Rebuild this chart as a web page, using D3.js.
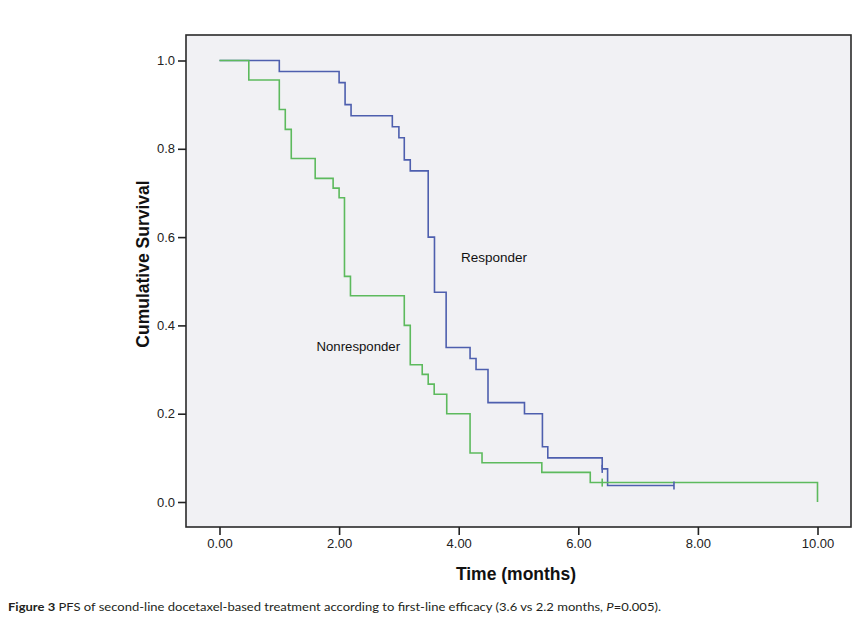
<!DOCTYPE html>
<html>
<head>
<meta charset="utf-8">
<script src="https://cdn.jsdelivr.net/npm/d3@7"></script>
<style>
  body { margin: 0; background: #fff; }
  svg { display: block; }
</style>
</head>
<body>
<svg id="chart" width="861" height="621"></svg>
<script>
// ---- Data ----
const responderTimes = [0, 1.0, 2.0, 2.1, 2.2, 2.89, 3.0, 3.09, 3.19, 3.49, 3.595, 3.79, 4.19, 4.29, 4.49, 5.10, 5.40, 5.49, 6.40, 6.49, 7.60];
const responderSurv  = [1, 0.975, 0.95, 0.90, 0.875, 0.85, 0.825, 0.775, 0.75, 0.60, 0.475, 0.35, 0.325, 0.30, 0.225, 0.20, 0.125, 0.10, 0.075, 0.0375, 0.0375];
const responderCensorTimes = [6.40, 7.60];
const responderCensorSurv  = [0.075, 0.0375];

const nonTimes = [0, 0.49, 1.0, 1.1, 1.2, 1.6, 1.9, 2.0, 2.09, 2.19, 3.09, 3.19, 3.39, 3.49, 3.59, 3.80, 4.19, 4.39, 5.39, 6.2, 10.0];
const nonSurv  = [1, 0.956, 0.889, 0.844, 0.778, 0.733, 0.711, 0.689, 0.511, 0.467, 0.40, 0.311, 0.289, 0.267, 0.244, 0.20, 0.111, 0.089, 0.067, 0.044, 0];
const nonCensorTimes = [6.40];
const nonCensorSurv  = [0.044];

const xTicks = [0, 2, 4, 6, 8, 10];
const yTicks = [0, 0.2, 0.4, 0.6, 0.8, 1.0];
const seriesLabels = ["Responder", "Nonresponder"];

// ---- Layout ----
const svg = d3.select("#chart");
const frame = { left: 186, right: 851, top: 35, bottom: 527 };
const x = d3.scaleLinear().domain([0, 10]).range([219.5, 817.5]);
const y = d3.scaleLinear().domain([0, 1]).range([502, 60.5]);

const blue = "#4e5fae";
const green = "#5dba5d";

// plot background + frame
svg.append("rect")
  .attr("x", frame.left).attr("y", frame.top)
  .attr("width", frame.right - frame.left).attr("height", frame.bottom - frame.top)
  .attr("fill", "#f1f1f4").attr("stroke", "#2a2a2a").attr("stroke-width", 1.6);

// axes
const yAxis = d3.axisLeft(y).tickValues(yTicks).tickFormat(d3.format(".1f")).tickSize(8).tickPadding(3);
const gy = svg.append("g").attr("transform", `translate(${frame.left},0)`).call(yAxis);
const xAxis = d3.axisBottom(x).tickValues(xTicks).tickFormat(d3.format(".2f")).tickSize(8).tickPadding(4);
const gx = svg.append("g").attr("transform", `translate(0,${frame.bottom})`).call(xAxis);
[gx, gy].forEach(g => {
  g.select(".domain").remove();
  g.selectAll(".tick line").attr("stroke", "#222").attr("stroke-width", 1.6);
  g.selectAll(".tick text").attr("fill", "#222").style("font-family", "'Liberation Sans', Arial, sans-serif").style("font-size", "13px");
});

// step path builder
function stepPath(times, surv) {
  const pts = [];
  for (let i = 0; i < times.length; i++) {
    if (i === 0) { pts.push([times[0], surv[0]]); continue; }
    pts.push([times[i], surv[i - 1]]);
    pts.push([times[i], surv[i]]);
  }
  return d3.line().x(d => x(d[0])).y(d => y(d[1]))(pts);
}

svg.append("path").attr("d", stepPath(responderTimes, responderSurv))
  .attr("fill", "none").attr("stroke", blue).attr("stroke-width", 1.6);
svg.append("path").attr("d", stepPath(nonTimes, nonSurv))
  .attr("fill", "none").attr("stroke", green).attr("stroke-width", 1.6);

// censor ticks
function censor(times, surv, color) {
  svg.append("g").selectAll("line").data(times).join("line")
    .attr("x1", d => x(d)).attr("x2", d => x(d))
    .attr("y1", (d, i) => y(surv[i]) - 4).attr("y2", (d, i) => y(surv[i]) + 4)
    .attr("stroke", color).attr("stroke-width", 1.6);
}
censor(nonCensorTimes, nonCensorSurv, green);
censor(responderCensorTimes, responderCensorSurv, blue);

// series labels
const labelFont = "'Liberation Sans', Arial, sans-serif";
svg.append("text").attr("x", 461).attr("y", 262).text(seriesLabels[0])
  .style("font-family", labelFont).style("font-size", "13.5px").attr("fill", "#111");
svg.append("text").attr("x", 316.5).attr("y", 351).text(seriesLabels[1])
  .style("font-family", labelFont).style("font-size", "13.2px").attr("fill", "#111");

// axis titles
svg.append("text")
  .attr("transform", "translate(149,264) rotate(-90)")
  .attr("text-anchor", "middle")
  .style("font-family", labelFont).style("font-size", "17.5px").style("font-weight", "bold")
  .attr("fill", "#111").text("Cumulative Survival");
svg.append("text")
  .attr("x", 516).attr("y", 580).attr("text-anchor", "middle")
  .style("font-family", labelFont).style("font-size", "17.5px").style("font-weight", "bold")
  .attr("fill", "#111").text("Time (months)");

// caption
const cap = svg.append("text").attr("x", 8).attr("y", 611)
  .attr("textLength", 653).attr("lengthAdjust", "spacingAndGlyphs")
  .style("font-family", "Lato, 'Open Sans', sans-serif").style("font-size", "11.5px").attr("fill", "#231f20");
cap.append("tspan").style("font-weight", "bold").text("Figure 3");
cap.append("tspan").text(" PFS of second-line docetaxel-based treatment according to first-line efficacy (3.6 vs 2.2 months, ");
cap.append("tspan").style("font-style", "italic").text("P");
cap.append("tspan").text("=0.005).");
</script>
</body>
</html>
